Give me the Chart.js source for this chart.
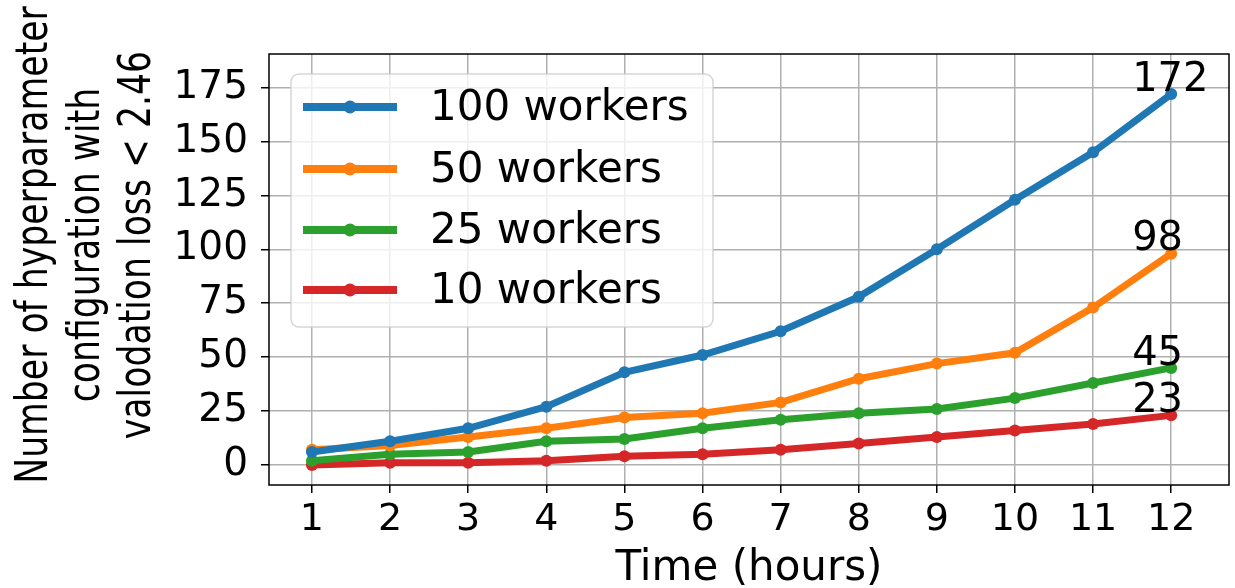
<!DOCTYPE html>
<html>
<head>
<meta charset="utf-8">
<script src="https://cdn.jsdelivr.net/npm/chart.js@4.4.1/dist/chart.umd.min.js"></script>
<style>
  html, body { margin: 0; padding: 0; background: #ffffff; }
  canvas { display: block; }
</style>
</head>
<body>
<canvas id="chart" width="1235" height="588"></canvas>
<script>
// Hours elapsed
const hours = [1, 2, 3, 4, 5, 6, 7, 8, 9, 10, 11, 12];

// Configurations found below the loss threshold, per worker count
const workers100 = [6, 11, 17, 27, 43, 51, 62, 78, 100, 123, 145, 172];
const workers50  = [7, 9, 13, 17, 22, 24, 29, 40, 47, 52, 73, 98];
const workers25  = [2, 5, 6, 11, 12, 17, 21, 24, 26, 31, 38, 45];
const workers10  = [0, 1, 1, 2, 4, 5, 7, 10, 13, 16, 19, 23];

const seriesLabels = ['100 workers', '50 workers', '25 workers', '10 workers'];
const seriesColors = ['#1f77b4', '#ff7f0e', '#2ca02c', '#d62728'];
const seriesValues = [workers100, workers50, workers25, workers10];

const xTicks = [1, 2, 3, 4, 5, 6, 7, 8, 9, 10, 11, 12];
const yTicks = [0, 25, 50, 75, 100, 125, 150, 175];

const yTitleLines = ['Number of hyperparameter', 'configuration with', 'valodation loss < 2.46'];
const xTitle = 'Time (hours)';

const FONT = '"DejaVu Sans", "Liberation Sans", sans-serif';

const datasets = seriesValues.map((vals, i) => ({
  label: seriesLabels[i],
  data: hours.map((h, j) => ({ x: h, y: vals[j] })),
  borderColor: seriesColors[i],
  backgroundColor: seriesColors[i],
  borderWidth: 7,
  pointRadius: 6,
  pointHoverRadius: 6,
  pointBorderWidth: 0,
  tension: 0,
  fill: false
}));

// Final-hour value written next to each series
const endLabelPlugin = {
  id: 'endLabels',
  afterDatasetsDraw(chart) {
    const { ctx, scales: { x, y } } = chart;
    ctx.save();
    ctx.font = '40px ' + FONT;
    ctx.fillStyle = '#000000';
    ctx.textAlign = 'left';
    ctx.textBaseline = 'alphabetic';
    seriesValues.forEach(vals => {
      const v = vals[vals.length - 1];
      ctx.fillText(String(v), x.getPixelForValue(11.5), y.getPixelForValue(v + 1.5));
    });
    ctx.restore();
  }
};

// Full box around the plot area, then the legend panel on top
const frameLegendPlugin = {
  id: 'frameLegend',
  afterDatasetsDraw(chart) {
    const { ctx, chartArea: a } = chart;
    ctx.save();
    ctx.strokeStyle = '#000000';
    ctx.lineWidth = 1.5;
    ctx.strokeRect(a.left, a.top, a.right - a.left, a.bottom - a.top);

    // legend panel
    const bx = 291, by = 74, bw = 422, bh = 253, r = 8;
    ctx.beginPath();
    ctx.moveTo(bx + r, by);
    ctx.arcTo(bx + bw, by, bx + bw, by + bh, r);
    ctx.arcTo(bx + bw, by + bh, bx, by + bh, r);
    ctx.arcTo(bx, by + bh, bx, by, r);
    ctx.arcTo(bx, by, bx + bw, by, r);
    ctx.closePath();
    ctx.fillStyle = 'rgba(255,255,255,0.8)';
    ctx.fill();
    ctx.strokeStyle = 'rgba(204,204,204,0.8)';
    ctx.lineWidth = 1.5;
    ctx.stroke();

    const rows = [107, 169, 230, 290];
    ctx.font = '42px ' + FONT;
    ctx.textAlign = 'left';
    ctx.textBaseline = 'middle';
    chart.data.datasets.forEach((ds, i) => {
      const cy = rows[i];
      ctx.strokeStyle = ds.borderColor;
      ctx.lineWidth = 8;
      ctx.lineCap = 'butt';
      ctx.beginPath();
      ctx.moveTo(303, cy);
      ctx.lineTo(397, cy);
      ctx.stroke();
      ctx.fillStyle = ds.borderColor;
      ctx.beginPath();
      ctx.arc(350, cy, 6.5, 0, Math.PI * 2);
      ctx.fill();
      ctx.fillStyle = '#000000';
      ctx.fillText(ds.label, 430, cy + 2);
    });
    ctx.restore();
  }
};

// Axis titles
const titlesPlugin = {
  id: 'axisTitles',
  afterDraw(chart) {
    const { ctx, chartArea: a } = chart;
    ctx.save();
    ctx.fillStyle = '#000000';
    ctx.font = '42px ' + FONT;
    ctx.textAlign = 'center';
    ctx.textBaseline = 'alphabetic';
    ctx.fillText(xTitle, (a.left + a.right) / 2, 580);

    // tall, narrow lettering for the rotated title
    ctx.font = '45px ' + FONT;
    const baselines = [47, 99, 150];
    yTitleLines.forEach((line, i) => {
      ctx.save();
      ctx.translate(baselines[i], 245);
      ctx.rotate(-Math.PI / 2);
      ctx.scale(0.77, 1);
      ctx.fillText(line, 0, 0);
      ctx.restore();
    });
    ctx.restore();
  }
};

new Chart(document.getElementById('chart'), {
  type: 'line',
  data: { datasets },
  plugins: [endLabelPlugin, frameLegendPlugin, titlesPlugin],
  options: {
    responsive: false,
    animation: false,
    events: [],
    layout: { padding: { top: 54, right: 1, left: 0, bottom: 0 } },
    plugins: { legend: { display: false }, tooltip: { enabled: false } },
    scales: {
      x: {
        type: 'linear',
        min: 0.45,
        max: 12.74,
        afterBuildTicks(scale) { scale.ticks = xTicks.map(v => ({ value: v })); },
        afterFit(scale) { scale.height = 103; },
        ticks: {
          font: { family: FONT, size: 38 },
          color: '#000000',
          padding: 4,
          maxRotation: 0,
          autoSkip: false,
          callback: v => String(v)
        },
        grid: {
          color: '#b0b0b0',
          lineWidth: 1.5,
          tickColor: '#000000',
          tickLength: 8,
          drawTicks: true
        },
        border: { display: false }
      },
      y: {
        type: 'linear',
        min: -9.3,
        max: 190.6,
        afterBuildTicks(scale) { scale.ticks = yTicks.map(v => ({ value: v })); },
        afterFit(scale) { scale.width = 269; },
        ticks: {
          font: { family: FONT, size: 39 },
          color: '#000000',
          padding: 13,
          callback: v => String(v)
        },
        grid: {
          color: '#b0b0b0',
          lineWidth: 1.5,
          tickColor: '#000000',
          tickLength: 8,
          drawTicks: true
        },
        border: { display: false }
      }
    }
  }
});
</script>
</body>
</html>
